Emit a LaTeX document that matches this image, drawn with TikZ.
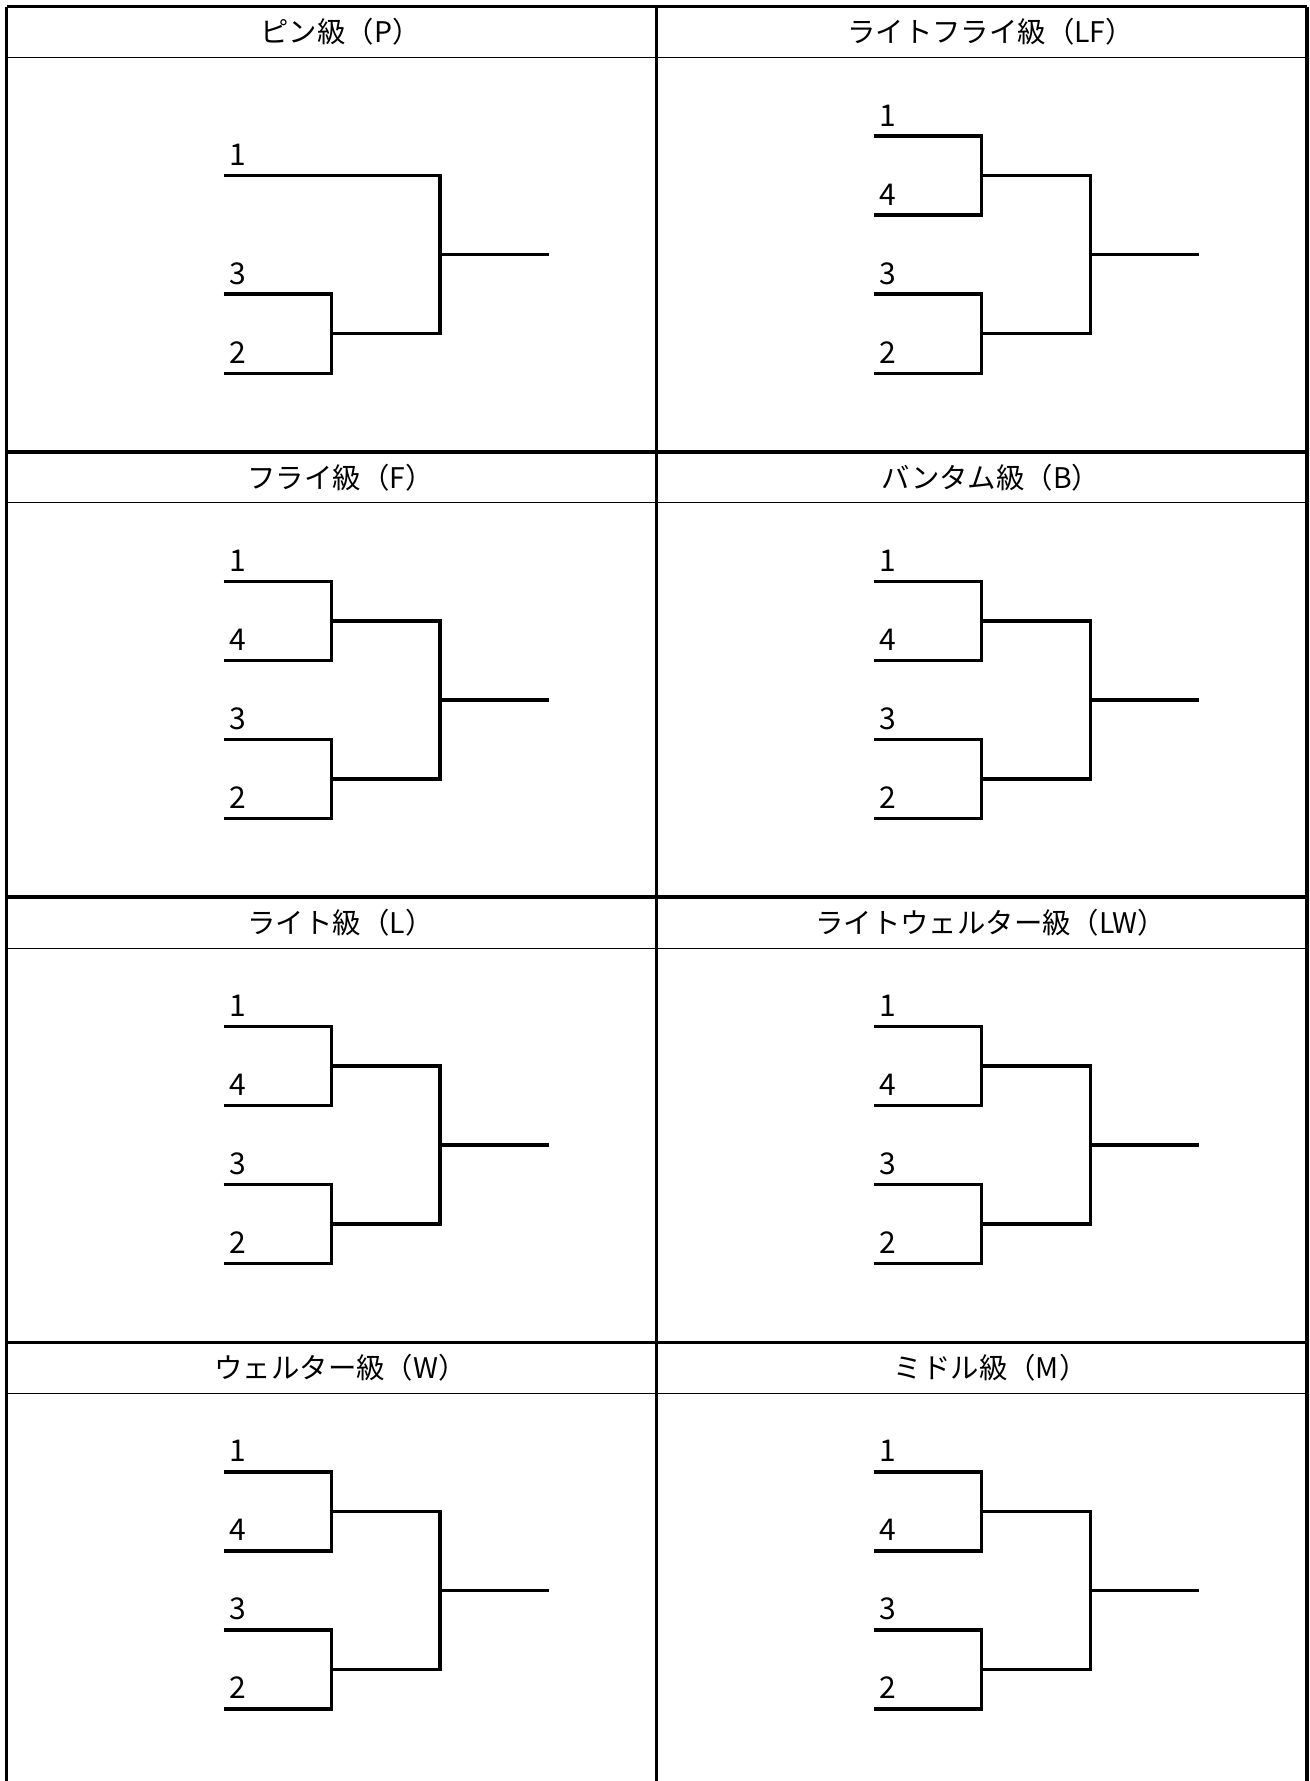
\documentclass[tikz,border=0pt]{standalone}
\usepackage{fontspec}
\newfontfamily\jpfont{Noto Sans CJK JP}

\begin{document}
\begin{tikzpicture}[
  x=0.5pt, y=-0.5pt,
  frame/.style={line width=1.7pt, black},
  rule/.style={line width=0.5pt, black},
  tree/.style={line width=1.7pt, black},
  title/.style={font=\jpfont\fontsize{14.2}{17}\selectfont, inner sep=0pt},
  seed/.style={font=\jpfont\fontsize{15}{18}\selectfont, anchor=base, inner sep=0pt}
]
\useasboundingbox (0,0) rectangle (1310,1781);

% Cabeceras de cada categoria
\foreach \c/\r/\n/\t in {0/0/p/{ピン級（P）}, 1/0/lf/{ライトフライ級（LF）},
    0/1/f/{フライ級（F）}, 1/1/b/{バンタム級（B）},
    0/2/l/{ライト級（L）}, 1/2/lw/{ライトウェルター級（LW）},
    0/3/w/{ウェルター級（W）}, 1/3/m/{ミドル級（M）}} {
  \begin{scope}[shift={(6.5+650.2*\c, 6.7+445.2*\r)}]
    \draw[frame] (0,0) -- (650.2,0);
    \draw[rule] (0,51) -- (650.2,51);
    \node[title] (\n-head) at (334,25.5) {\t};
  \end{scope}
}

% Lineas verticales del marco
\draw[frame] (6.5,6.7) -- (6.5,1781);
\draw[frame] (656.7,6.7) -- (656.7,1781);
\draw[frame] (1307,6.7) -- (1307,1781);

% Torneo de 3 (P)
\begin{scope}[shift={(6.5,6.7)}]
  \coordinate (p-e1) at (217,169);
  \coordinate (p-e3) at (217,287.5);
  \coordinate (p-e4) at (217,366.5);
  \coordinate (p-j2) at (325,327);
  \coordinate (p-k) at (433.5,248);
  \coordinate (p-win) at (542,248);
  \node[seed] (p-s1) at (231,159) {1};
  \node[seed] (p-s3) at (231,277.5) {3};
  \node[seed] (p-s2) at (231,356.5) {2};
  \draw[tree] (p-e1) -| (p-k) |- (p-j2);
  \draw[tree] (p-e3) -| (p-j2) |- (p-e4);
  \draw[tree] (p-k) -- (p-win);
\end{scope}

% Torneos de 4
\foreach \c/\r/\n in {1/0/lf, 0/1/f, 1/1/b, 0/2/l, 1/2/lw, 0/3/w, 1/3/m} {
  \begin{scope}[shift={(6.5+650.2*\c, 6.7+445.2*\r)}]
    \coordinate (\n-e1) at (217,129.5);
    \coordinate (\n-e2) at (217,208.5);
    \coordinate (\n-e3) at (217,287.5);
    \coordinate (\n-e4) at (217,366.5);
    \coordinate (\n-j1) at (325,169);
    \coordinate (\n-j2) at (325,327);
    \coordinate (\n-k) at (433.5,248);
    \coordinate (\n-win) at (542,248);
    \node[seed] (\n-s1) at (231,119.5) {1};
    \node[seed] (\n-s4) at (231,198.5) {4};
    \node[seed] (\n-s3) at (231,277.5) {3};
    \node[seed] (\n-s2) at (231,356.5) {2};
    \draw[tree] (\n-e1) -| (\n-j1) |- (\n-e2);
    \draw[tree] (\n-e3) -| (\n-j2) |- (\n-e4);
    \draw[tree] (\n-j1) -| (\n-k) |- (\n-j2);
    \draw[tree] (\n-k) -- (\n-win);
  \end{scope}
}

\end{tikzpicture}
\end{document}
